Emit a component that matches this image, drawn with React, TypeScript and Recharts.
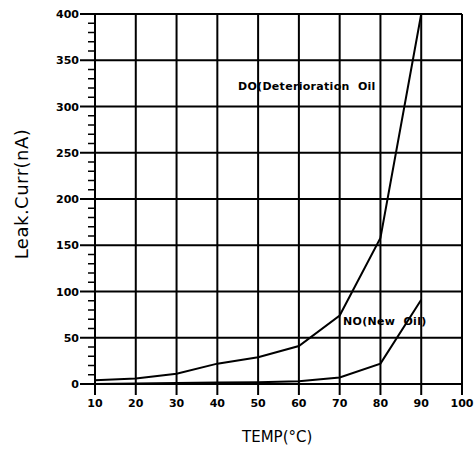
import { CartesianGrid, Line, LineChart, XAxis, YAxis } from "recharts";

const temps = [10, 20, 30, 40, 50, 60, 70, 80, 90];
const doCurrent = [4, 6, 11, 22, 29, 41, 74, 158, 400];
const noCurrent = [0, 0.5, 1, 1.5, 2, 3, 7, 22, 91];
const xTicks = [10, 20, 30, 40, 50, 60, 70, 80, 90, 100];
const yMajorTicks = [0, 50, 100, 150, 200, 250, 300, 350, 400];
const yMinorTicks = Array.from({ length: 41 }, (_, i) => i * 10);

const data = temps.map((t, i) => ({ temp: t, do: doCurrent[i], no: noCurrent[i] }));

const font = "'DejaVu Sans', sans-serif";

function YTick({ x, y, payload }: any) {
  const major = payload.value % 50 === 0;
  return (
    <g>
      <line x1={x - (major ? 15 : 7)} x2={x} y1={y} y2={y} stroke="#000" strokeWidth={major ? 2 : 1.5} />
      {major && (
        <text x={x - 16} y={y} dy={4} textAnchor="end" fontSize={11} fontWeight="bold" fontFamily={font} fill="#000">
          {payload.value}
        </text>
      )}
    </g>
  );
}

export default function App() {
  return (
    <div style={{ position: "relative", width: 474, height: 450, fontFamily: font, color: "#000" }}>
      <style>{"body{margin:0}"}</style>
      <LineChart width={474} height={450} data={data} margin={{ top: 14, right: 12, bottom: 0, left: 0 }}>
        <CartesianGrid stroke="#000" strokeWidth={2} horizontalValues={yMajorTicks} verticalValues={xTicks} />
        <XAxis
          dataKey="temp"
          type="number"
          domain={[10, 100]}
          ticks={xTicks}
          interval={0}
          height={66}
          tickSize={11}
          tickMargin={4}
          axisLine={{ stroke: "#000", strokeWidth: 2 }}
          tickLine={{ stroke: "#000", strokeWidth: 2 }}
          tick={{ fontSize: 11, fontWeight: "bold", fill: "#000", fontFamily: font }}
        />
        <YAxis
          type="number"
          domain={[0, 400]}
          ticks={yMinorTicks}
          interval={0}
          width={95}
          tickSize={0}
          tickMargin={0}
          tickLine={false}
          axisLine={{ stroke: "#000", strokeWidth: 2 }}
          tick={<YTick />}
        />
        <Line type="linear" dataKey="do" stroke="#000" strokeWidth={2} dot={false} isAnimationActive={false} />
        <Line type="linear" dataKey="no" stroke="#000" strokeWidth={2} dot={false} isAnimationActive={false} />
      </LineChart>
      <div
        style={{
          position: "absolute",
          left: 21,
          top: 194,
          transform: "translate(-50%, -50%) rotate(-90deg)",
          fontSize: 18,
          letterSpacing: 0.5,
          whiteSpace: "nowrap",
        }}
      >
        Leak.Curr(nA)
      </div>
      <div style={{ position: "absolute", left: 242, top: 428, fontSize: 15, whiteSpace: "nowrap" }}>TEMP(°C)</div>
      <div
        style={{
          position: "absolute",
          left: 238,
          top: 80,
          fontSize: 11,
          fontWeight: "bold",
          letterSpacing: 0.3,
          whiteSpace: "nowrap",
        }}
      >
        DO(Deterioration&nbsp; Oil
      </div>
      <div
        style={{
          position: "absolute",
          left: 343,
          top: 315,
          fontSize: 11,
          fontWeight: "bold",
          letterSpacing: 0.3,
          whiteSpace: "nowrap",
        }}
      >
        NO(New&nbsp; Oil)
      </div>
    </div>
  );
}
